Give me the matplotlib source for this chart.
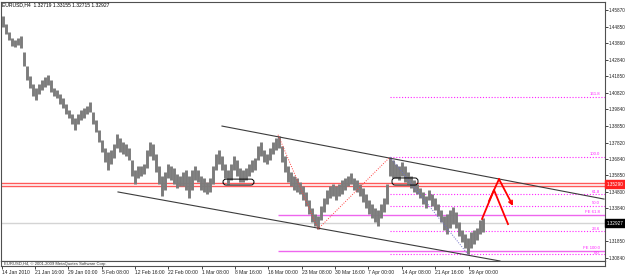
import matplotlib.pyplot as plt
from matplotlib.patches import FancyBboxPatch

plt.rcParams["font.family"] = ["Liberation Sans", "DejaVu Sans"]

# EURUSD H4, one entry for every third bar (high / low)
highs = [
    1.4551, 1.4502, 1.4454, 1.4417, 1.4405, 1.4417, 1.4430, 1.4332, 1.4247, 1.4187,
    1.4138, 1.4114, 1.4138, 1.4162, 1.4181, 1.4193, 1.4162, 1.4114, 1.4102, 1.4077,
    1.4053, 1.4017, 1.3980, 1.3956, 1.3932, 1.3956, 1.3980, 1.3992, 1.4005, 1.4029,
    1.3968, 1.3920, 1.3859, 1.3798, 1.3750, 1.3725, 1.3738, 1.3774, 1.3835, 1.3810,
    1.3786, 1.3774, 1.3750, 1.3677, 1.3616, 1.3640, 1.3640, 1.3653, 1.3738, 1.3786,
    1.3774, 1.3713, 1.3640, 1.3580, 1.3604, 1.3653, 1.3640, 1.3628, 1.3592, 1.3580,
    1.3604, 1.3616, 1.3580, 1.3616, 1.3640, 1.3616, 1.3580, 1.3568, 1.3543, 1.3568,
    1.3640, 1.3713, 1.3738, 1.3701, 1.3653, 1.3616, 1.3653, 1.3701, 1.3677, 1.3628,
    1.3616, 1.3628, 1.3653, 1.3677, 1.3689, 1.3762, 1.3786, 1.3738, 1.3713, 1.3750,
    1.3786, 1.3810, 1.3823, 1.3762, 1.3701, 1.3640, 1.3604, 1.3580, 1.3568, 1.3543,
    1.3519, 1.3483, 1.3434, 1.3385, 1.3349, 1.3337, 1.3398, 1.3446, 1.3495, 1.3519,
    1.3531, 1.3519, 1.3531, 1.3555, 1.3568, 1.3580, 1.3598, 1.3568, 1.3555, 1.3531,
    1.3507, 1.3470, 1.3434, 1.3410, 1.3385, 1.3373, 1.3410, 1.3446, 1.3531, 1.3695,
    1.3677, 1.3653, 1.3640, 1.3665, 1.3640, 1.3604, 1.3580, 1.3555, 1.3531, 1.3507,
    1.3483, 1.3458, 1.3495, 1.3470, 1.3446, 1.3410, 1.3373, 1.3337, 1.3349, 1.3373,
    1.3392, 1.3361, 1.3300, 1.3252, 1.3228, 1.3203, 1.3240, 1.3252, 1.3264, 1.3313,
    1.3325,
]
lows = [
    1.4484, 1.4442, 1.4405, 1.4369, 1.4363, 1.4375, 1.4357, 1.4247, 1.4162, 1.4114,
    1.4065, 1.4041, 1.4077, 1.4102, 1.4120, 1.4132, 1.4090, 1.4065, 1.4053, 1.4017,
    1.3992, 1.3956, 1.3932, 1.3895, 1.3859, 1.3895, 1.3920, 1.3932, 1.3956, 1.3968,
    1.3895, 1.3847, 1.3786, 1.3725, 1.3665, 1.3616, 1.3653, 1.3689, 1.3750, 1.3725,
    1.3713, 1.3701, 1.3677, 1.3580, 1.3531, 1.3568, 1.3580, 1.3592, 1.3628, 1.3701,
    1.3677, 1.3604, 1.3531, 1.3458, 1.3495, 1.3568, 1.3555, 1.3531, 1.3507, 1.3519,
    1.3519, 1.3495, 1.3446, 1.3495, 1.3555, 1.3543, 1.3495, 1.3483, 1.3470, 1.3483,
    1.3531, 1.3616, 1.3653, 1.3616, 1.3568, 1.3531, 1.3555, 1.3616, 1.3580, 1.3543,
    1.3543, 1.3555, 1.3580, 1.3604, 1.3616, 1.3677, 1.3701, 1.3665, 1.3653, 1.3677,
    1.3713, 1.3738, 1.3750, 1.3665, 1.3604, 1.3543, 1.3519, 1.3495, 1.3483, 1.3470,
    1.3434, 1.3398, 1.3349, 1.3300, 1.3276, 1.3258, 1.3313, 1.3361, 1.3410, 1.3446,
    1.3458, 1.3434, 1.3458, 1.3470, 1.3495, 1.3519, 1.3531, 1.3495, 1.3483, 1.3458,
    1.3422, 1.3385, 1.3349, 1.3325, 1.3300, 1.3276, 1.3325, 1.3361, 1.3410, 1.3580,
    1.3568, 1.3568, 1.3555, 1.3580, 1.3543, 1.3531, 1.3507, 1.3483, 1.3470, 1.3446,
    1.3410, 1.3385, 1.3434, 1.3398, 1.3373, 1.3337, 1.3300, 1.3252, 1.3228, 1.3264,
    1.3288, 1.3264, 1.3216, 1.3179, 1.3143, 1.3104, 1.3143, 1.3167, 1.3191, 1.3228,
    1.3240,
]
bar_x = [2 + 3 * i for i in range(len(highs))]

date_pos = [1, 34, 67, 101, 134, 167, 201, 234, 267, 301, 334, 367, 401, 434, 468]
date_labels = ["14 Jan 2010", "21 Jan 16:00", "29 Jan 00:00", "5 Feb 08:00",
               "12 Feb 16:00", "22 Feb 00:00", "1 Mar 08:00", "8 Mar 16:00",
               "16 Mar 00:00", "23 Mar 08:00", "30 Mar 16:00", "7 Apr 00:00",
               "14 Apr 08:00", "21 Apr 16:00", "29 Apr 00:00"]
price_ticks = [1.45870, 1.44850, 1.43860, 1.42840, 1.41850, 1.40820, 1.39840,
               1.38850, 1.37820, 1.36840, 1.35850, 1.34800, 1.33840, 1.31850, 1.30840]

bid = 1.32927
header = "EURUSD,H4  1.32719 1.33155 1.32715 1.32927"

# drawn objects
upper_chan_x, upper_chan_p = [221, 603], [1.3883, 1.3440]
lower_chan_x, lower_chan_p = [117, 499], [1.3483, 1.3064]
red_levels = [1.3538, 1.3520]
red_label = "1.35290"

fib_x0 = 389
fib_high, fib_low = 1.3695, 1.3104
fib_levels = [0.0, 23.6, 50.0, 61.8, 100.0, 161.8]

fe_x0 = 277
fe_a, fe_b, fe_c = 1.3830, 1.3258, 1.3695
fe_levels = [61.8, 100.0]

zig_x = [277, 317, 389]
zig_p = [1.3830, 1.3258, 1.3695]
drop_x = [389, 467]
drop_p = [1.3695, 1.3104]

boxes = [(222, 1.3525, 31, 0.0036), (391, 1.3525, 26, 0.0043)]  # x, bottom, width, height

path1_x, path1_p = [481, 493, 507], [1.3319, 1.3495, 1.3288]
path2_x, path2_p = [488, 498, 512], [1.3428, 1.3561, 1.3398]

W, H = 625, 278
fig = plt.figure(figsize=(W / 100, H / 100), dpi=100)
ax = fig.add_axes([1 / W, 17 / H, 604 / W, 259 / H])
ax2 = fig.add_axes([1 / W, 12 / H, 604 / W, 5 / H], sharex=ax)

ax.set_xlim(0, 604)
ax.set_ylim(1.3064, 1.4636)
px_price = (1.4636 - 1.3064) / 259

# candles
ax.vlines(bar_x, lows, highs, color="#7c7c7c", lw=2.1, zorder=3)

# horizontal red lines and bid line
for p in red_levels:
    ax.axhline(p, color="#ff5a5a", lw=1.0, zorder=2)
ax.axhline(bid, color="#d4d4d4", lw=1.0, zorder=1)

# channel
ax.plot(upper_chan_x, upper_chan_p, color="#3c3c3c", lw=0.8, zorder=4)
ax.plot(lower_chan_x, lower_chan_p, color="#3c3c3c", lw=0.8, zorder=4)

# fibo retracement
for lv in fib_levels:
    p = fib_low + (fib_high - fib_low) * lv / 100
    ax.hlines(p, fib_x0, 604, colors="#ff22ff", linestyles=(0, (1, 1.6)), lw=0.8, zorder=2)
    lift = -0.3 if lv == 0.0 else 0.4
    ax.annotate(f"{lv:.1f}", xy=(599, p), xytext=(0, lift), textcoords="offset points",
                ha="right", va="bottom", fontsize=3.1, color="#ff22ff", zorder=5)

# fibo expansion
for lv in fe_levels:
    p = fe_c - (fe_a - fe_b) * lv / 100
    ax.hlines(p, fe_x0, 604, colors="#ee66ee", lw=1.0, zorder=2)
    ax.annotate(f"FE {lv:.1f}", xy=(599, p), xytext=(0, 0.8), textcoords="offset points",
                ha="right", va="bottom", fontsize=3.1, color="#ff22ff", zorder=5)

ax.plot(zig_x, zig_p, color="#ff4040", lw=0.7, ls=(0, (1, 1.5)), zorder=5)
ax.plot(drop_x, drop_p, color="#7070c8", lw=0.7, ls=(0, (1, 1.5)), zorder=5)

for x0, p0, w, h in boxes:
    ax.add_patch(FancyBboxPatch((x0, p0), w, h, boxstyle="round,pad=0,rounding_size=3",
                                mutation_aspect=px_price, fc="none", ec="black",
                                lw=0.7, zorder=6))

# projected path
ax.plot(path1_x, path1_p, color="red", lw=1.3, zorder=6)
ax.plot(path2_x[:2], path2_p[:2], color="red", lw=1.3, zorder=6)
ax.annotate("", xy=(path2_x[2], path2_p[2]), xytext=(path2_x[1], path2_p[1]),
            arrowprops=dict(arrowstyle="->", color="red", lw=1.3, shrinkA=0, shrinkB=0,
                            mutation_scale=6), zorder=6)

# axes look
for a in (ax, ax2):
    for s in a.spines.values():
        s.set_color("#505050")
        s.set_linewidth(0.8)
ax.yaxis.tick_right()
ax.set_yticks(price_ticks)
ax.set_yticklabels([f"{v:.5f}" for v in price_ticks])
ax.tick_params(axis="y", length=2, width=0.6, pad=1, labelsize=3.3, colors="#222222")
ax.tick_params(axis="x", bottom=False, labelbottom=False)

ax2.set_yticks([])
ax2.set_xticks(date_pos)
ax2.set_xticklabels(date_labels, ha="left")
ax2.tick_params(axis="x", length=2, width=0.6, pad=1.2, labelsize=3.6, colors="#222222")
ax2.text(3, 0.5, "EURUSD,H4, \u00a9 2001-2009 MetaQuotes Software Corp.",
         transform=ax2.get_xaxis_transform(), fontsize=3.0, va="center", color="#333333")

# price labels at the right
ax.annotate(f"{bid:.5f}", xy=(1, bid), xycoords=("axes fraction", "data"),
            xytext=(1.5, 0), textcoords="offset points", ha="left", va="center",
            fontsize=3.3, color="white",
            bbox=dict(boxstyle="square,pad=0.35", fc="black", ec="black"))
ax.annotate(red_label, xy=(1, sum(red_levels) / 2), xycoords=("axes fraction", "data"),
            xytext=(1.5, 0), textcoords="offset points", ha="left", va="center",
            fontsize=3.3, color="white",
            bbox=dict(boxstyle="square,pad=0.35", fc="#ff2020", ec="#ff2020"))

ax.annotate(header, xy=(0, 1), xycoords="axes fraction", xytext=(1, -2.3),
            textcoords="offset points", ha="left", va="center", fontsize=3.6,
            color="black")

fig.savefig("out.png", dpi=100)
